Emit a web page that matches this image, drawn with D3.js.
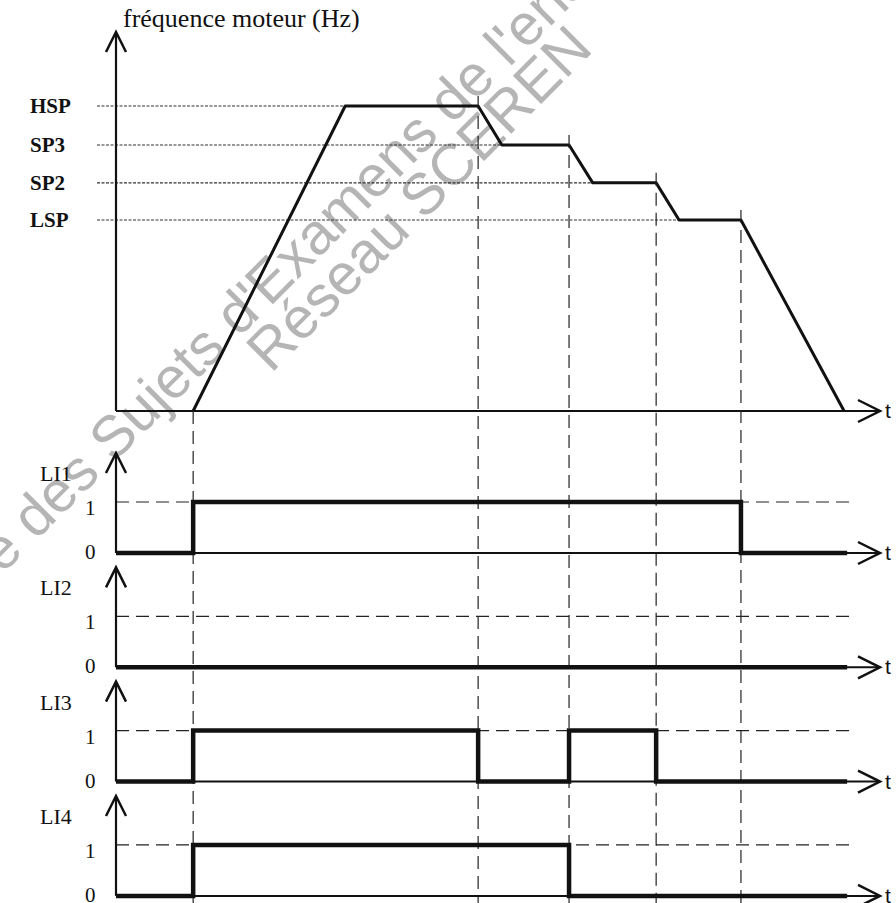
<!DOCTYPE html>
<html>
<head>
<meta charset="utf-8">
<script src="https://cdn.jsdelivr.net/npm/d3@7"></script>
<style>
  body { margin: 0; background: #fff; }
  svg { display: block; }
  .serif { font-family: "Liberation Serif", "DejaVu Serif", serif; fill: #111; }
</style>
</head>
<body>
<svg id="chart" width="896" height="903"></svg>
<script>
// Speed levels (Hz, relative)
var levelNames = ["HSP", "SP3", "SP2", "LSP"];
var levelValues = [50, 43.6, 37.4, 31.3];

// Motor frequency profile (time, frequency)
var freqTimes = [1.01, 3.0, 4.74, 5.05, 5.93, 6.24, 7.07, 7.37, 8.18, 9.53];
var freqValues = [0, 50, 50, 43.6, 43.6, 37.4, 37.4, 31.3, 31.3, 0];

// Where each dotted level line stops (time)
var levelEnds = [3.0, 5.05, 6.24, 7.37];

// Instants marked with vertical dashed lines, and the level they start from
var eventTimes = [1.01, 4.74, 5.93, 7.07, 8.18];
var eventLevels = [0, 50, 43.6, 37.4, 31.3];

// Logic inputs: transition times and states
var signalNames = ["LI1", "LI2", "LI3", "LI4"];
var signalTimes = [
  [0, 1.01, 8.18, 9.57],
  [0, 9.57],
  [0, 1.01, 4.74, 5.93, 7.07, 9.57],
  [0, 1.01, 5.93, 9.57]
];
var signalStates = [
  [0, 1, 0, 0],
  [0, 0],
  [0, 1, 0, 1, 0, 0],
  [0, 1, 0, 0]
];
var stateTicks = [0, 1];

var svg = d3.select("#chart");

var x = d3.scaleLinear().domain([0, 10]).range([116, 880]);
var yF = d3.scaleLinear().domain([0, 50]).range([411, 106]);

// Watermark (under everything)
var wm = svg.append("g")
  .attr("font-family", "Liberation Sans, Arial, sans-serif")
  .attr("font-size", 58)
  .attr("fill", "#b5b5b5");
wm.append("text")
  .attr("transform", "translate(36,541) rotate(-45)")
  .text("des Sujets d'Examens de l'enseignement professionnel");
wm.append("text")
  .attr("transform", "translate(25,552) rotate(-45)")
  .attr("text-anchor", "end")
  .text("Base Nationale");
wm.append("text")
  .attr("transform", "translate(271,374) rotate(-45)")
  .text("Réseau SCEREN");

function upArrow(g, xx, tip) {
  g.append("path")
    .attr("d", `M${xx - 10},${tip + 20}L${xx},${tip}L${xx + 10},${tip + 20}`)
    .attr("fill", "none").attr("stroke", "#111").attr("stroke-width", 2.5);
}
function rightArrow(g, tip, yy) {
  g.append("path")
    .attr("d", `M${tip - 22},${yy - 11}L${tip},${yy}L${tip - 22},${yy + 11}`)
    .attr("fill", "none").attr("stroke", "#111").attr("stroke-width", 2.5);
  g.append("text")
    .attr("x", tip + 5).attr("y", yy + 7)
    .attr("font-family", "Liberation Sans, Arial, sans-serif")
    .attr("font-size", 21).attr("fill", "#111")
    .text("t");
}

// ---- Frequency chart ----
var freqG = svg.append("g");

// dotted reference lines for each level
freqG.selectAll("line.level")
  .data(levelValues)
  .enter().append("line")
  .attr("class", "level")
  .attr("x1", 97)
  .attr("x2", (d, i) => x(levelEnds[i]))
  .attr("y1", d => yF(d)).attr("y2", d => yF(d))
  .attr("stroke", "#333").attr("stroke-width", 1.1)
  .attr("stroke-dasharray", "3,1.5");

freqG.selectAll("text.lvl")
  .data(levelNames)
  .enter().append("text")
  .attr("class", "serif lvl")
  .attr("x", 30)
  .attr("y", (d, i) => yF(levelValues[i]) + 7)
  .attr("font-size", 21).attr("font-weight", "bold")
  .text(d => d);

// vertical dashed event lines
svg.selectAll("line.event")
  .data(eventTimes)
  .enter().append("line")
  .attr("class", "event")
  .attr("x1", d => x(d)).attr("x2", d => x(d))
  .attr("y1", (d, i) => i === 0 ? yF(0) : yF(eventLevels[i]) - 10)
  .attr("y2", 903)
  .attr("stroke", "#222").attr("stroke-width", 1.2)
  .attr("stroke-dasharray", "13,7");

// axes
freqG.append("line")
  .attr("x1", x(0)).attr("x2", x(0)).attr("y1", yF(0)).attr("y2", 33)
  .attr("stroke", "#111").attr("stroke-width", 2.2);
freqG.append("line")
  .attr("x1", x(0)).attr("x2", x(10)).attr("y1", yF(0)).attr("y2", yF(0))
  .attr("stroke", "#111").attr("stroke-width", 2.2);
upArrow(freqG, x(0), 32);
rightArrow(freqG, x(10), yF(0));

freqG.append("text")
  .attr("class", "serif")
  .attr("x", 123).attr("y", 27)
  .attr("font-size", 26)
  .text("fréquence moteur (Hz)");

var freqLine = d3.line()
  .x((d, i) => x(freqTimes[i]))
  .y(d => yF(d));
freqG.append("path")
  .datum(freqValues)
  .attr("d", freqLine)
  .attr("fill", "none").attr("stroke", "#111").attr("stroke-width", 3)
  .attr("stroke-linejoin", "round");

// ---- Logic inputs ----
var panelBase0 = 553, panelStep = 114.3, panelHeight = 51;

signalNames.forEach(function(name, k) {
  var base = panelBase0 + k * panelStep;
  var y = d3.scaleLinear().domain([0, 1]).range([base, base - panelHeight]);
  var g = svg.append("g");

  // dashed level 1
  g.append("line")
    .attr("x1", x(0)).attr("x2", x(9.6))
    .attr("y1", y(1)).attr("y2", y(1))
    .attr("stroke", "#222").attr("stroke-width", 1.2)
    .attr("stroke-dasharray", "13,7");

  // axes
  g.append("line")
    .attr("x1", x(0)).attr("x2", x(0)).attr("y1", y(0)).attr("y2", y(1.94))
    .attr("stroke", "#111").attr("stroke-width", 2.2);
  g.append("line")
    .attr("x1", x(0)).attr("x2", x(10)).attr("y1", y(0)).attr("y2", y(0))
    .attr("stroke", "#111").attr("stroke-width", 2);
  upArrow(g, x(0), y(1.96));
  rightArrow(g, x(10), y(0));

  g.append("text")
    .attr("class", "serif")
    .attr("x", 40).attr("y", y(1) - 21)
    .attr("font-size", 22)
    .text(name);

  g.selectAll("text.tick")
    .data(stateTicks)
    .enter().append("text")
    .attr("class", "serif tick")
    .attr("x", 85)
    .attr("y", d => y(d) + (d === 1 ? 13 : 6))
    .attr("font-size", 21)
    .text(d => d);

  var step = d3.line()
    .curve(d3.curveStepAfter)
    .x((d, i) => x(signalTimes[k][i]))
    .y(d => y(d));
  g.append("path")
    .datum(signalStates[k])
    .attr("d", step)
    .attr("fill", "none").attr("stroke", "#111").attr("stroke-width", 4.5)
    .attr("stroke-linejoin", "miter");
});
</script>
</body>
</html>
